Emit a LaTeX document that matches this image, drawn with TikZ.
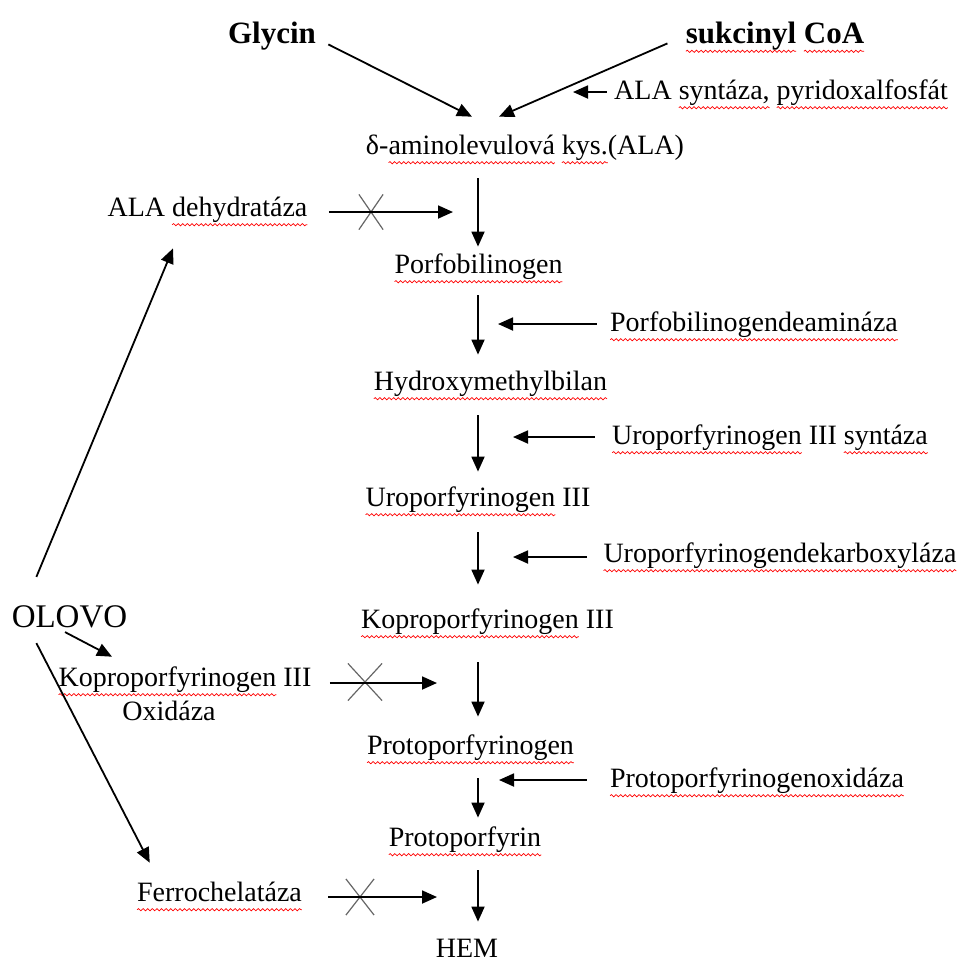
\documentclass[tikz,border=0pt]{standalone}
\usepackage{fontspec}
\setmainfont{Liberation Serif}
\usepackage{tikz}
\usetikzlibrary{arrows.meta,positioning,shapes.misc,decorations.pathmorphing}

% red spell-check wave under a word
\tikzset{wavy/.style={draw=red, line width=0.35pt, decorate, decoration={snake, amplitude=0.55pt, segment length=2.3pt}}}
\newcommand{\redwave}[1]{\tikz[baseline=(wv.base), x=1pt, y=1pt]{\node[inner sep=0pt, outer sep=0pt, text height={}, text depth={}] (wv) {#1}; \path[wavy, overlay] ([yshift=-4pt]wv.base west) -- ([yshift=-4pt]wv.base east);}}

\begin{document}
\begin{tikzpicture}[
        x=0.5pt, y=-0.5pt,
        lbl/.style={inner sep=0pt, text height=9.8pt, text depth=3.1pt, font=\fontsize{14}{16}\selectfont},
        src/.style={inner sep=0pt, text height=10.5pt, text depth=3.2pt, font=\fontsize{15.5}{18}\selectfont\bfseries},
        arr/.style={-{Triangle[length=7.5pt,width=6.5pt]}, line width=0.9pt},
        xmark/.style={cross out, draw=black!60, line width=0.6pt, inner sep=0pt}
    ]
        \useasboundingbox (0,0) rectangle (962,965);

        % Substrates
        \node[src] (glycin) at (272,36) {Glycin};
        \node[src] (succoa) at (775,36) {\redwave{sukcinyl} \redwave{CoA}};
        \node[lbl] (alasyn) at (781,93) {ALA \redwave{syntáza,} \redwave{pyridoxalfosfát}};

        % Main pathway
        \node[lbl] (ala) at (525,148) {δ-\redwave{aminolevulová} \redwave{kys.}(ALA)};
        \node[lbl] (pbg) at (478.5,267) {\redwave{Porfobilinogen}};
        \node[lbl] (hmb) at (490.5,384) {\redwave{Hydroxymethylbilan}};
        \node[lbl] (uro) at (478,500) {\redwave{Uroporfyrinogen} III};
        \node[lbl] (copro) at (487.5,622) {\redwave{Koproporfyrinogen} III};
        \node[lbl] (proto) at (470.5,748) {\redwave{Protoporfyrinogen}};
        \node[lbl] (pp) at (465,840) {\redwave{Protoporfyrin}};
        \node[lbl, text depth=0pt] (hem) at (467,948) {HEM};

        % Enzymes on the right
        \node[lbl] (pbgd) at (754,325) {\redwave{Porfobilinogendeamináza}};
        \node[lbl] (uros) at (770,438) {\redwave{Uroporfyrinogen} III \redwave{syntáza}};
        \node[lbl] (urod) at (780,556) {\redwave{Uroporfyrinogendekarboxyláza}};
        \node[lbl] (ppox) at (757,781) {\redwave{Protoporfyrinogenoxidáza}};

        % Lead and the enzymes it blocks
        \node[inner sep=0pt, font=\fontsize{16.5}{20}\selectfont] (olovo) at (69.5,617) {OLOVO};
        \node[lbl] (aladh) at (207.5,210) {ALA \redwave{dehydratáza}};
        \node[lbl] (cpox) at (185,680) {\redwave{Koproporfyrinogen} III};
        \node[lbl, below=3.6pt of cpox, xshift=-8pt] (cpoxb) {Oxidáza};
        \node[lbl] (fech) at (219.5,895) {\redwave{Ferrochelatáza}};

        % Arrow tips
        \coordinate (col) at (478,0);
        \coordinate (tipsyn) at (573,92);
        \coordinate (tipdeam) at (498,324);
        \coordinate (tipsynt) at (513,437);
        \coordinate (tipdekarb) at (513,557);
        \coordinate (tipox) at (499,780);
        \coordinate (tipdh) at (453,212);
        \coordinate (tipcpox) at (437,683);
        \coordinate (tipfech) at (437,897);

        % Blocked steps
        \node[xmark, minimum width=11.5pt, minimum height=17pt] (xdh) at (371,212) {};
        \node[xmark, minimum width=16.5pt, minimum height=18pt] (xcpox) at (365,682) {};
        \node[xmark, minimum width=13.5pt, minimum height=17.5pt] (xfech) at (360,897) {};

        % Arrows
        \draw[arr] ([xshift=6pt,yshift=2.85pt]glycin.south east) -- ([xshift=-26.5pt,yshift=9pt]ala.north);
        \draw[arr] ([xshift=-9pt,yshift=3.35pt]succoa.south west) -- ([xshift=-13pt,yshift=9pt]ala.north);

        \draw[arr, shorten <=8.55pt, shorten >=3.55pt] (ala.south -| col) -- (pbg.north -| col);
        \draw[arr, shorten <=7.55pt, shorten >=8.05pt] (pbg.south -| col) -- (hmb.north -| col);
        \draw[arr, shorten <=9.05pt, shorten >=7.55pt] (hmb.south -| col) -- (uro.north -| col);
        \draw[arr, shorten <=9.55pt, shorten >=12.05pt] (uro.south -| col) -- (copro.north -| col);
        \draw[arr, shorten <=13.55pt, shorten >=9.05pt] (copro.south -| col) -- (proto.north -| col);
        \draw[arr, shorten <=8.55pt, shorten >=4.55pt] (proto.south -| col) -- (pp.north -| col);
        \draw[arr, shorten <=8.55pt, shorten >=8.1pt] (pp.south -| col) -- (hem.north -| col);

        \draw[arr, shorten <=3.5pt] (alasyn.west |- tipsyn) -- (tipsyn);
        \draw[arr, shorten <=6.5pt] (pbgd.west |- tipdeam) -- (tipdeam);
        \draw[arr, shorten <=8.5pt] (uros.west |- tipsynt) -- (tipsynt);
        \draw[arr, shorten <=8pt] (urod.west |- tipdekarb) -- (tipdekarb);
        \draw[arr, shorten <=11.5pt] (ppox.west |- tipox) -- (tipox);

        \draw[arr, shorten <=10.5pt] (aladh.east |- tipdh) -- (tipdh);
        \draw[arr, shorten <=9pt] (cpox.east |- tipcpox) -- (tipcpox);
        \draw[arr, shorten <=13pt] (fech.east |- tipfech) -- (tipfech);

        \draw[arr] ([xshift=12.5pt,yshift=14.25pt]olovo.north west) -- ([xshift=-17.25pt,yshift=-12.55pt]aladh.south);
        \draw[arr] ([xshift=-2.25pt,yshift=-1.75pt]olovo.south) -- ([xshift=-36.5pt,yshift=5pt]cpox.north);
        \draw[arr] ([xshift=12.5pt,yshift=-7.25pt]olovo.south west) -- ([xshift=6.5pt,yshift=9.5pt]fech.north west);
    \end{tikzpicture}
\end{document}
